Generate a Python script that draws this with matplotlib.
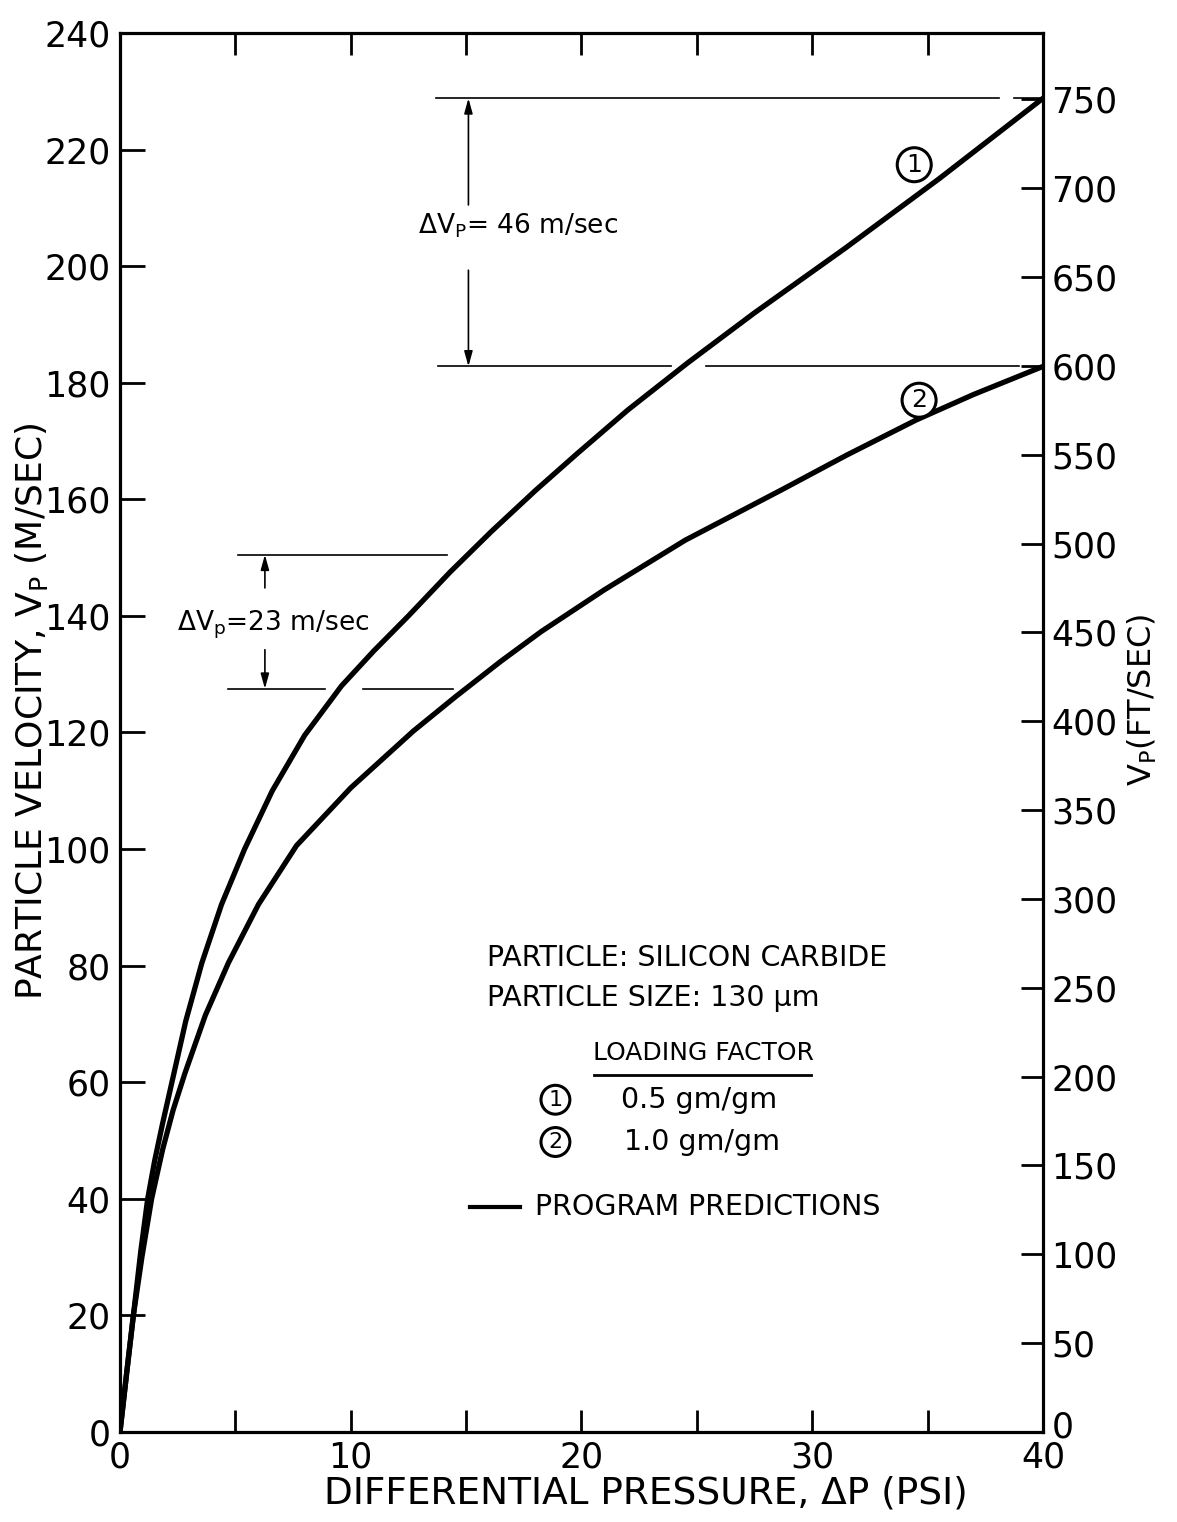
import matplotlib
matplotlib.use("Agg")
import matplotlib.pyplot as plt
import matplotlib.transforms as mtransforms

# ---- data -------------------------------------------------------------
# Differential pressure (psi) and particle velocity (m/s), loading factor 0.5 gm/gm
dp_1 = [0.0, 0.3, 0.58, 0.9, 1.2, 1.5, 1.85, 2.25, 2.85, 3.55, 4.4, 5.4, 6.6,
        8.0, 9.6, 11.0, 12.5, 14.3, 16.1, 18.0, 19.8, 22.0, 24.6, 27.5, 31.4,
        35.5, 40.0]
vp_1 = [0.0, 10.5, 20.0, 31.0, 40.0, 46.5, 53.0, 60.0, 70.5, 80.5, 90.5, 100.0,
        110.0, 119.5, 128.0, 134.0, 140.0, 147.5, 154.5, 161.5, 167.8, 175.3,
        183.4, 192.0, 203.0, 215.0, 228.8]

# Loading factor 1.0 gm/gm
dp_2 = [0.0, 0.3, 0.58, 0.95, 1.37, 1.85, 2.3, 2.81, 3.7, 4.7, 6.0, 7.65, 10.0,
        12.7, 14.53, 16.5, 18.25, 21.0, 24.5, 28.66, 31.5, 34.5, 37.0, 40.0]
vp_2 = [0.0, 10.5, 20.0, 30.0, 40.0, 48.5, 55.2, 61.5, 71.5, 80.5, 90.5, 100.6,
        110.5, 120.2, 126.1, 132.2, 137.3, 144.5, 153.0, 161.6, 167.6, 173.6,
        178.0, 182.8]

x_ticks = [0, 10, 20, 30, 40]
x_minor = [5, 15, 25, 35]
y_ticks = list(range(0, 241, 20))
ft_ticks = list(range(0, 751, 50))

MS_TO_FTS = 3.28084
DV_LARGE = 46   # m/sec gap at 40 psi
DV_SMALL = 23   # m/sec gap near 15 psi
small_top = 150.5

# ---- figure -----------------------------------------------------------
plt.rcParams['font.family'] = ['DejaVu Sans']
plt.rcParams['mathtext.fontset'] = 'dejavusans'

fig = plt.figure(figsize=(11.77, 15.22), dpi=100)
ax = fig.add_axes([0.10195, 0.05913, 0.7842, 0.9192])

curve_kw = dict(color='black', lw=3.8, solid_capstyle='round', solid_joinstyle='round')
ax.plot(dp_1, vp_1, **curve_kw)
ax.plot(dp_2, vp_2, **curve_kw)

ax.set_xlim(0, 40)
ax.set_ylim(0, 240)
ax.set_xticks(x_ticks)
ax.set_xticks(x_minor, minor=True)
ax.set_yticks(y_ticks)
ax.set_xticklabels([str(v) for v in x_ticks], fontsize=25)
ax.set_yticklabels([str(v) for v in y_ticks], fontsize=25)
ax.tick_params(axis='both', which='both', direction='in', width=2.0,
               top=True, bottom=True)
ax.tick_params(axis='x', which='both', length=16, pad=6)
ax.tick_params(axis='y', which='both', length=18, pad=7, right=False)

for sp in ax.spines.values():
    sp.set_linewidth(2.3)

ax.set_xlabel('DIFFERENTIAL PRESSURE, ΔP (PSI)', fontsize=27)
ax.xaxis.set_label_coords(0.57, -0.031)
ax.set_ylabel('PARTICLE VELOCITY, V$_\\mathrm{P}$ (M/SEC)', fontsize=26)
ax.yaxis.set_label_coords(-0.076, 0.515)

# Secondary scale in ft/sec
ax2 = ax.twinx()
ax2.set_ylim(0, 240 * MS_TO_FTS)
ax2.set_yticks(ft_ticks)
ax2.set_yticklabels([str(v) for v in ft_ticks], fontsize=25)
ax2.tick_params(axis='y', direction='in', length=16, width=2.0, pad=6)
for sp in ax2.spines.values():
    sp.set_visible(False)
ax2.set_ylabel('V$_\\mathrm{P}$(FT/SEC)', fontsize=23)
ax2.yaxis.set_label_coords(1.089, 0.523)
# lift the lowest ft/sec label clear of the "40" below it
zero_lbl = ax2.get_yticklabels()[0]
zero_lbl.set_transform(zero_lbl.get_transform() +
                       mtransforms.ScaledTranslation(0, 6 / 72, fig.dpi_scale_trans))

# ---- velocity-difference annotations ----------------------------------
line_kw = dict(color='black', lw=1.2)
top_level = vp_1[-1]
low_level = top_level - DV_LARGE
ax.plot([13.7, 38.1], [top_level, top_level], **line_kw)
ax.plot([38.75, 40.0], [top_level, top_level], **line_kw)
ax.plot([13.77, 23.9], [low_level, low_level], **line_kw)
ax.plot([25.4, 38.96], [low_level, low_level], **line_kw)

small_low = small_top - DV_SMALL
ax.plot([5.1, 14.16], [small_top, small_top], **line_kw)
ax.plot([4.68, 8.87], [small_low, small_low], **line_kw)
ax.plot([10.52, 14.42], [small_low, small_low], **line_kw)

arrow_kw = dict(arrowstyle='-|>,head_length=0.9,head_width=0.25', color='black', lw=1.2,
                shrinkA=0, shrinkB=0)
ax.annotate('', xy=(15.1, top_level), xytext=(15.1, 210.5), arrowprops=arrow_kw)
ax.annotate('', xy=(15.1, low_level), xytext=(15.1, 199.3), arrowprops=arrow_kw)
ax.annotate('', xy=(6.28, small_top), xytext=(6.28, 144.8), arrowprops=arrow_kw)
ax.annotate('', xy=(6.28, small_low), xytext=(6.28, 134.2), arrowprops=arrow_kw)

ax.text(12.9, 206.9, 'ΔV$_\\mathrm{P}$= 46 m/sec', fontsize=19, va='center', ha='left')
ax.text(2.47, 138.4, 'ΔV$_\\mathrm{p}$=23 m/sec', fontsize=19, va='center', ha='left')

# ---- curve identifiers ------------------------------------------------
circ = dict(boxstyle='circle,pad=0.2', fc='white', ec='black', lw=2.2)
ax.text(34.42, 217.4, '1', fontsize=18, ha='center', va='center', bbox=circ)
ax.text(34.63, 177.0, '2', fontsize=18, ha='center', va='center', bbox=circ)

# ---- legend block -----------------------------------------------------
ax.text(15.89, 81.3, 'PARTICLE: SILICON CARBIDE', fontsize=20.5, va='center', ha='left')
ax.text(15.89, 74.5, 'PARTICLE SIZE: 130 μm', fontsize=20.5, va='center', ha='left')
ax.text(20.48, 65.0, 'LOADING FACTOR', fontsize=18, va='center', ha='left')
ax.plot([20.56, 29.96], [61.2, 61.2], color='black', lw=2.0)
ax.text(18.87, 57.0, '1', fontsize=16, ha='center', va='center', bbox=circ)
ax.text(21.73, 57.0, '0.5 gm/gm', fontsize=20.5, va='center', ha='left')
ax.text(18.87, 49.75, '2', fontsize=16, ha='center', va='center', bbox=circ)
ax.text(21.85, 49.75, '1.0 gm/gm', fontsize=20.5, va='center', ha='left')
ax.plot([15.15, 17.32], [38.6, 38.6], color='black', lw=3.0)
ax.text(17.97, 38.6, 'PROGRAM PREDICTIONS', fontsize=20.5, va='center', ha='left')

fig.savefig('out.png', dpi=100)
